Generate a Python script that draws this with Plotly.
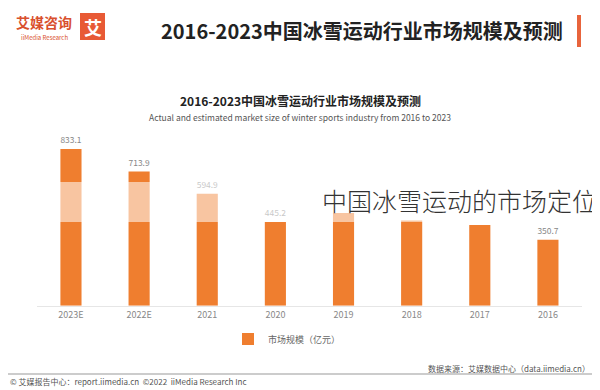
import plotly.graph_objects as go

OFF = 8  # default page body margin
W, H = 600 - OFF, 390 - OFF

years = ["2016", "2017", "2018", "2019", "2020", "2021", "2022E", "2023E"]
market_size = [350.7, 429.0, 453.0, 493.0, 445.2, 594.9, 713.9, 833.1]
value_labels = ["350.7", "", "", "", "445.2", "594.9", "713.9", "833.1"]

header_title = "2016-2023中国冰雪运动行业市场规模及预测"
chart_title = "2016-2023中国冰雪运动行业市场规模及预测"
chart_subtitle = "Actual and estimated market size of winter sports industry from 2016 to 2023"
series_name = "市场规模（亿元）"
source_text = "数据来源：艾媒数据中心（data.iimedia.cn）"
footer_text = "© 艾媒报告中心：report.iimedia.cn  ©2022  iiMedia Research Inc"
overlay_text = "中国冰雪运动的市场定位"

FONT = "Noto Sans CJK SC, Noto Sans, sans-serif"
ORANGE = "#EF7E2F"


def px(x, y):
    """screen pixel -> paper coords (figure is drawn at an 8px page offset)"""
    return (x - OFF) / W, 1 - (y - OFF) / H


fig = go.Figure()
fig.add_trace(go.Bar(
    x=years, y=market_size, name=series_name,
    marker=dict(color=ORANGE, line=dict(width=0)),
    text=value_labels, textposition="outside",
    textfont=dict(size=9, color="#888888", family=FONT),
    cliponaxis=False, showlegend=True,
))

x0, _ = px(36.9, 0)
x1, _ = px(582, 0)
_, yb = px(0, 305.8)
_, yt = px(0, 136.4)

fig.update_layout(
    width=W, height=H,
    margin=dict(l=0, r=0, t=0, b=0),
    paper_bgcolor="white", plot_bgcolor="white",
    font=dict(family=FONT, color="#333"),
    bargap=0.69,
    xaxis=dict(domain=[x0, x1], type="category", autorange="reversed",
               showline=True, linecolor="#e6e6e6", linewidth=1,
               ticks="", tickfont=dict(size=9, color="#888888"), showgrid=False),
    yaxis=dict(domain=[yb, yt], range=[0, 900], visible=False, showgrid=False),
    legend=dict(orientation="h", x=px(287, 0)[0], xanchor="center", y=px(0, 339)[1], yanchor="middle",
                font=dict(size=9, color="#666666"), itemwidth=30, bgcolor="rgba(0,0,0,0)"),
)

shapes = []
# header red bar
a, b = px(577, 15); c, d = px(581, 47)
shapes.append(dict(type="rect", xref="paper", yref="paper", x0=a, y0=d, x1=c, y1=b,
                   fillcolor="#E8643C", line=dict(width=0)))
# logo square
a, b = px(80, 13); c, d = px(105, 40)
shapes.append(dict(type="rect", xref="paper", yref="paper", x0=a, y0=d, x1=c, y1=b,
                   fillcolor="#E85A35", line=dict(width=0)))
# translucent band
a, b = px(OFF, 182); c, d = px(600, 222)
shapes.append(dict(type="rect", xref="paper", yref="paper", x0=a, y0=d, x1=c, y1=b,
                   fillcolor="white", opacity=0.55, line=dict(width=0), layer="above"))
# footer line
a, b = px(OFF, 374); c, _ = px(595, 0)
shapes.append(dict(type="line", xref="paper", yref="paper", x0=a, y0=b, x1=c, y1=b,
                   line=dict(color="#999999", width=1)))
fig.update_layout(shapes=shapes)

ann = []
def text(x, y, s, size, color="#333", anchor="center", weight=None, family=FONT):
    xx, yy = px(x, y)
    f = dict(size=size, color=color, family=family)
    if weight:
        f["weight"] = weight
    ann.append(dict(xref="paper", yref="paper", x=xx, y=yy, text=s, showarrow=False,
                    xanchor=anchor, yanchor="middle", font=f))

text(565, 30, header_title, 20, "#222222", "right", weight="bold")
text(92.5, 26.5, "艾", 18, "white", "center", weight="bold")
text(44, 22, "艾媒咨询", 14, "#D9502E", "center", weight="bold")
text(44, 37, "iiMedia Research", 6, "#D9502E", "center")
text(300, 100, chart_title, 12, "#222222", "center", weight="bold")
text(300, 117, chart_subtitle, 8.5, "#555555", "center")
text(592, 368, source_text, 8, "#555555", "right")
text(OFF, 381.5, footer_text, 8, "#555555", "left")
text(320, 200, overlay_text, 25, "#333333", "left", weight=300)
fig.update_layout(annotations=ann)

fig.write_html("out.html")
